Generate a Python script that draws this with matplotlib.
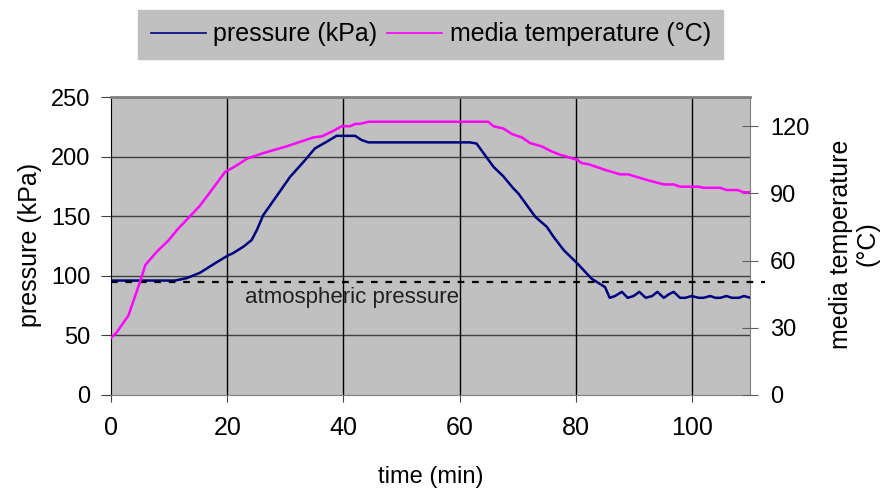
import matplotlib
matplotlib.use("Agg")
import matplotlib.pyplot as plt

plt.rcParams["font.family"] = ["Liberation Sans", "DejaVu Sans"]

# pressure curve (kPa) vs time (min)
p_time = [0, 11, 13, 15.3, 17.9, 20.1, 21, 22.8, 24.2, 25.1, 26.2, 28.8, 30.8,
          33.1, 35.1, 37.1, 38.8, 42, 43.1, 44.3, 61.8, 62.9, 65.8, 67.5, 69.2,
          70.1, 73, 75, 76.1, 77.9, 80.2, 82.7, 85, 85.8, 86.7, 87.9, 88.9,
          89.9, 90.9, 92.0, 93.1, 94.0, 95.1, 96.0, 96.8, 97.9, 98.8, 99.9,
          101.1, 101.9, 103.1, 104.0, 104.8, 105.9, 106.8, 108.0, 108.9, 110]
pressure = [96, 96, 98, 102.5, 110.5, 117, 119, 124.5, 130, 138.5, 151, 169,
            183, 195.5, 207, 212.5, 217.5, 217.5, 214, 212, 212, 211, 191.5,
            183.5, 173.5, 169, 149.5, 141, 133, 121.5, 110.5, 97.5, 90.5, 81.5,
            83, 86.5, 81.5, 83, 86.5, 81.5, 83, 86.5, 81.5, 84.5, 86.5, 81.5,
            81.5, 83, 81.5, 81.5, 83, 81.5, 81.5, 83, 81.5, 81.5, 83, 81.5]

# media temperature (°C) vs time (min)
t_time = [0, 1, 3, 3.8, 5, 5.9, 7.9, 9.9, 11.3, 13.3, 15.3, 17.9, 19.6, 21.3,
          23.4, 26.2, 30.2, 34.8, 36.3, 38.3, 39.7, 41.1, 42, 43.1, 44.3, 64.9,
          65.8, 67.5, 69, 70.7, 72.1, 74.1, 75.6, 77, 80.2, 81, 82.2, 85, 87.6,
          89, 92.2, 95.1, 96.8, 97.9, 101.1, 101.9, 104.8, 105.9, 107.8, 108.8,
          110]
temperature = [25.5, 28, 35.5, 41.5, 50.5, 58, 64, 69, 73.5, 79, 84.5, 93.5,
               99.5, 102, 105.5, 108, 111, 115, 115.5, 118, 120, 120, 121,
               121.2, 122, 122, 120, 119, 116.5, 115, 112.5, 111, 109, 107.5,
               105, 103.5, 103, 100.5, 98.5, 98.5, 96, 94, 94, 93, 93, 92.5,
               92.5, 91.5, 91.5, 90.5, 90.5]

atmospheric = 95
x_ticks = [0, 20, 40, 60, 80, 100]
p_ticks = [0, 50, 100, 150, 200, 250]
t_ticks = [0, 30, 60, 90, 120]

fig = plt.figure(figsize=(8.88, 4.93), dpi=100)
ax = fig.add_axes([0.125, 0.199, 0.72, 0.604])
ax.set_facecolor("#C0C0C0")

for v in p_ticks[1:-1]:
    ax.axhline(v, color="#404040", lw=1, zorder=1)
for v in x_ticks[1:]:
    ax.axvline(v, color="black", lw=1, zorder=1)

lp, = ax.plot(p_time, pressure, color="#000080", lw=1.8, zorder=3,
              label="pressure (kPa)")
ax.plot([0, 112.5], [atmospheric, atmospheric], color="black", lw=1.6,
        ls=(0, (3, 3.5)), zorder=4, clip_on=False)
ax.text(41.5, 81.5, "atmospheric pressure", ha="center", va="center",
        fontsize=16, color="#202020")

ax.set_xlim(0, 110)
ax.set_ylim(0, 250)
ax.set_xticks(x_ticks)
ax.set_yticks(p_ticks)
ax.tick_params(axis="y", labelsize=17, length=7, pad=8, color="#404040")
ax.tick_params(axis="x", labelsize=18, length=5, pad=10, color="#404040")
for s in ["top", "right", "bottom"]:
    ax.spines[s].set_color("#808080")
ax.spines["top"].set_linewidth(2)
ax.spines["left"].set_color("black")

fig.text(0.485, 0.032, "time (min)", ha="center", va="center", fontsize=17)
fig.text(0.034, 0.503, "pressure (kPa)", ha="center", va="center",
         rotation=90, fontsize=18)

ax2 = ax.twinx()
lt, = ax2.plot(t_time, temperature, color="#FF00FF", lw=1.8, zorder=3,
               label="media temperature (°C)")
ax2.set_ylim(0, 133)
ax2.set_yticks(t_ticks)
ax2.tick_params(labelsize=17, length=12, direction="inout", color="#606060",
                pad=8)
for s in ["top", "right", "bottom", "left"]:
    ax2.spines[s].set_visible(False)
ax.set_zorder(ax2.get_zorder() - 1)
ax2.patch.set_visible(False)

fig.text(0.962, 0.505, "media temperature\n(°C)", ha="center", va="center",
         rotation=90, fontsize=18, multialignment="center", linespacing=1.1)

leg = fig.legend(handles=[lp, lt], loc="upper center",
                 bbox_to_anchor=(0.485, 0.98), ncol=2, fontsize=18,
                 frameon=True, fancybox=False, handlelength=2.2,
                 columnspacing=0.4, handletextpad=0.3, borderpad=0.5,
                 borderaxespad=0)
leg.get_frame().set_facecolor("#C0C0C0")
leg.get_frame().set_edgecolor("#C0C0C0")
leg.get_frame().set_alpha(1)
for line in leg.get_lines():
    line.set_linewidth(1.2)

fig.savefig("out.png", dpi=100)
